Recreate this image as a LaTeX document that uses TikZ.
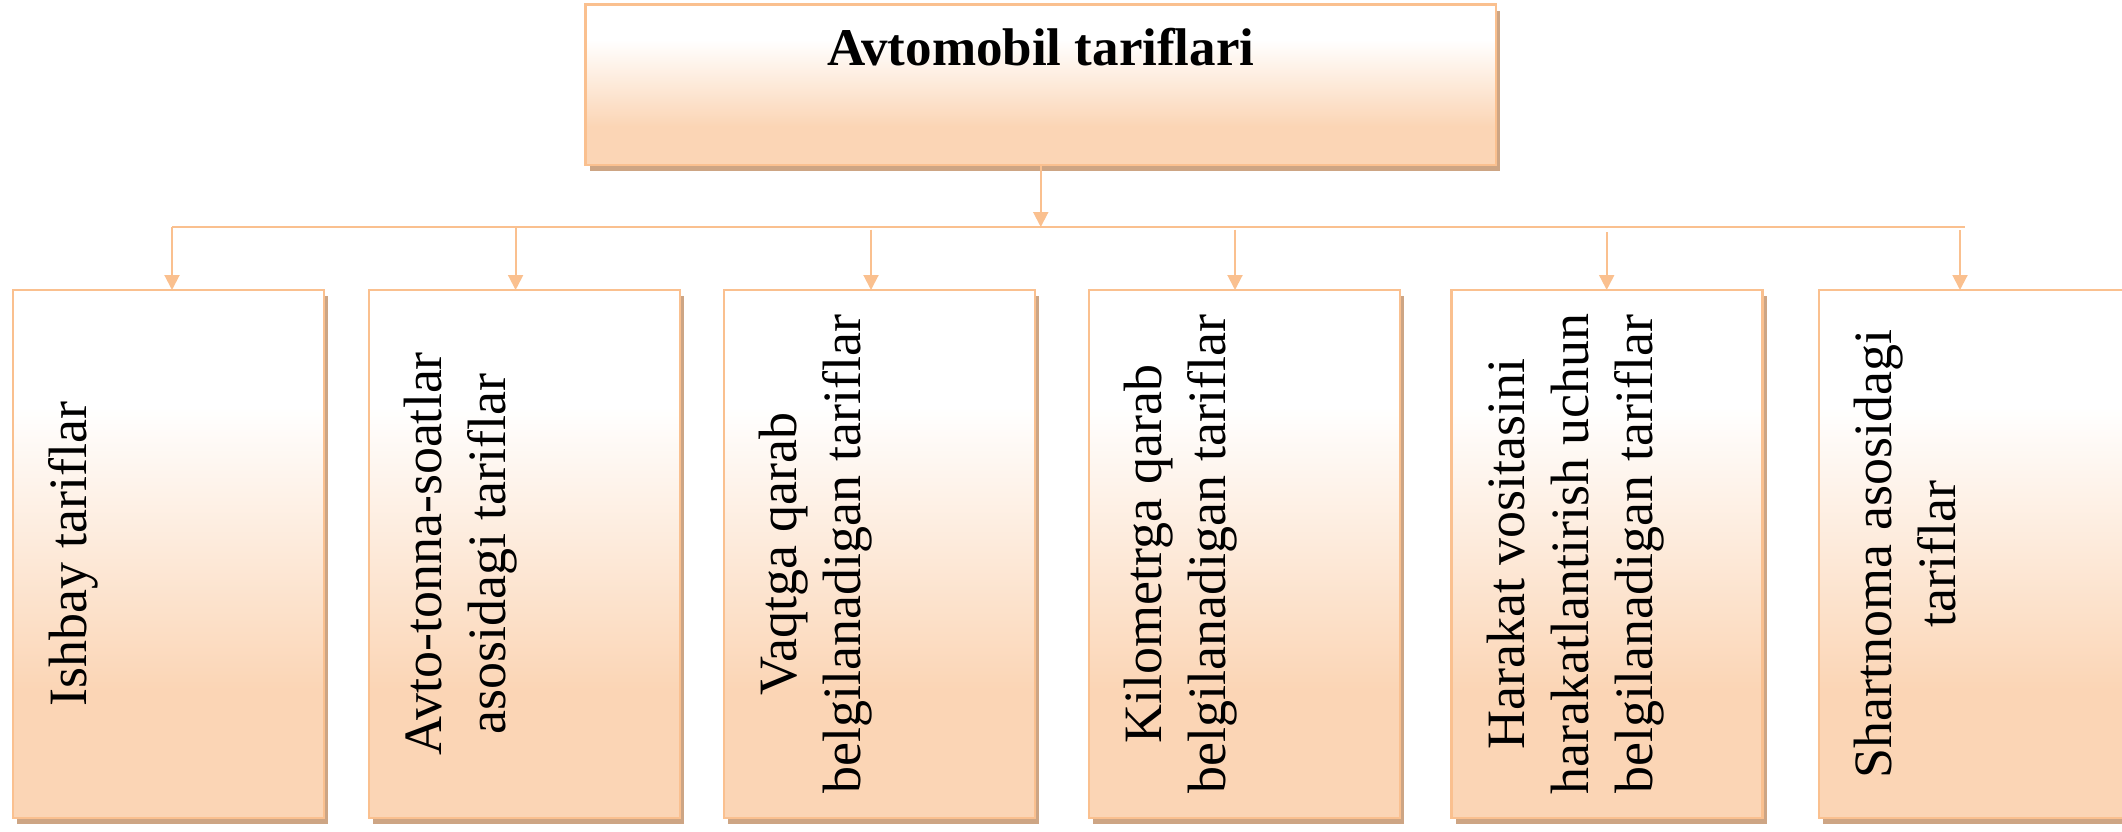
\documentclass[tikz,border=0pt]{standalone}
\usepackage{fontspec}
\setmainfont{Liberation Serif}
\usetikzlibrary{arrows.meta,shadows,calc}
\definecolor{peachline}{RGB}{250,192,143}
\definecolor{peachfill}{RGB}{251,213,181}
\definecolor{shadowc}{RGB}{205,165,132}
\pgfdeclareverticalshading{boxshade}{100bp}{color(0bp)=(peachfill); color(37bp)=(peachfill); color(64bp)=(white); color(100bp)=(white)}
\begin{document}
\begin{tikzpicture}[x=0.5pt,y=-0.5pt,
 box/.style={draw=peachline, line width=1.2pt, shading=boxshade,
   general shadow={fill=shadowc, shadow xshift=2pt, shadow yshift=-3pt},
   anchor=north west, inner sep=0pt, outer sep=0pt},
 cbox/.style={box, minimum width=155.5pt, minimum height=264pt},
 ctext/.style={rotate=90, anchor=north, inner sep=0pt, align=center, font=\fontsize{27}{32}\selectfont},
 ttext/.style={anchor=base, inner sep=0pt, font=\bfseries\fontsize{26.5}{30}\selectfont},
 link/.style={draw=peachline, line width=1pt},
 arr/.style={link, -{Triangle[width=7.5pt,length=7.5pt]}}
]
\useasboundingbox (0,0) rectangle (2122,831);

% top box
\node[box, minimum width=455.25pt, minimum height=80.25pt] (top) at (585.5,4.5) {};
\node[ttext] (title) at (1040.75,65.7) {Avtomobil tariflari};

% child boxes
\node[cbox] (b1) at (13,290) {};
\node[cbox] (b2) at (369,290) {};
\node[cbox] (b3) at (724,290) {};
\node[cbox] (b4) at (1089,290) {};
\node[cbox] (b5) at (1451.5,290) {};
\node[cbox] (b6) at (1819,290) {};

% texts
\node[ctext] (t1) at ($(b1.west)+(35,0)$) {Ishbay tariflar};
\node[ctext] (t2) at ($(b2.west)+(35,0)$) {Avto-tonna-soatlar\\asosidagi tariflar};
\node[ctext] (t3) at ($(b3.west)+(35,0)$) {Vaqtga qarab\\belgilanadigan tariflar};
\node[ctext] (t4) at ($(b4.west)+(35,0)$) {Kilometrga qarab\\belgilanadigan tariflar};
\node[ctext] (t5) at ($(b5.west)+(35,0)$) {Harakat vositasini\\harakatlantirish uchun\\belgilanadigan tariflar};
\node[ctext] (t6) at ($(b6.west)+(35,0)$) {Shartnoma asosidagi\\tariflar};

% connectors
\coordinate (hub) at (1041,227);
\coordinate (hl) at (172,227);
\coordinate (hr) at (1964.5,227);
\draw[link] (hl) -- (hr);
\draw[arr] (top.south) -- (top.south |- hub);

\coordinate (s1) at (172,227);
\coordinate (s2) at (515.6,227);
\coordinate (s3) at (871,229.5);
\coordinate (s4) at (1235,229.5);
\coordinate (s5) at (1606.7,232);
\coordinate (s6) at (1960,230);
\draw[arr] (s1) -- (s1 |- b1.north);
\draw[arr] (s2) -- (s2 |- b2.north);
\draw[arr] (s3) -- (s3 |- b3.north);
\draw[arr] (s4) -- (s4 |- b4.north);
\draw[arr] (s5) -- (s5 |- b5.north);
\draw[arr] (s6) -- (s6 |- b6.north);
\end{tikzpicture}
\end{document}
